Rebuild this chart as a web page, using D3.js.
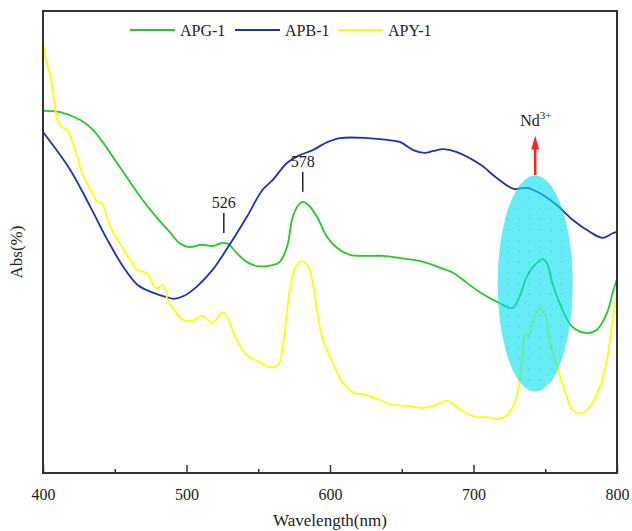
<!DOCTYPE html>
<html>
<head>
<meta charset="utf-8">
<script src="https://cdn.jsdelivr.net/npm/d3@7"></script>
<style>
  body { margin: 0; background: #fff; }
  text { font-family: "Liberation Serif", "Times New Roman", serif; fill: #222; }
</style>
</head>
<body>
<div id="root"></div>
<script>
// Series names and colours
var seriesNames = ["APG-1", "APB-1", "APY-1"];
var seriesColors = ["#22cc22", "#1f2fbf", "#ffff00"];

// APG-1 (green)
var apgWl  = [400, 412, 426, 435, 454, 468, 479, 489, 495, 502, 511, 518, 525, 529, 535, 542, 549, 560, 565, 570, 574, 578, 581, 585, 591, 598, 605, 614, 626, 637, 649, 665, 677, 686, 691, 705, 718, 727, 732, 737, 741, 748, 751, 755, 762, 769, 779, 786, 793, 797, 800];
var apgAbs = [78.4, 78.1, 76.4, 74.2, 66.0, 59.7, 55.4, 51.9, 49.8, 48.9, 49.4, 49.1, 49.8, 49.6, 47.6, 45.7, 44.8, 45.0, 45.7, 48.9, 55.4, 58.0, 58.7, 58.0, 55.4, 51.1, 48.7, 47.2, 47.0, 47.0, 46.5, 45.7, 44.4, 43.3, 42.2, 39.0, 36.8, 35.7, 38.1, 42.4, 44.4, 46.3, 45.5, 41.1, 35.3, 31.6, 30.3, 31.0, 34.6, 39.0, 42.0];

// APB-1 (blue)
var apbWl  = [400, 419, 433, 445, 456, 466, 477, 486, 491, 498, 507, 518, 530, 542, 553, 560, 570, 579, 588, 598, 607, 626, 640, 649, 658, 666, 672, 679, 688, 705, 716, 728, 737, 746, 758, 769, 781, 790, 797, 800];
var apbAbs = [73.8, 65.6, 57.6, 50.4, 44.6, 40.7, 39.0, 38.1, 37.7, 38.3, 40.3, 43.9, 49.4, 55.4, 61.3, 63.4, 67.1, 68.8, 69.9, 71.6, 72.5, 72.5, 72.1, 71.6, 69.9, 69.3, 69.7, 70.1, 69.5, 66.7, 63.9, 61.5, 61.7, 60.6, 58.0, 54.8, 52.2, 50.9, 51.9, 52.2];

// APY-1 (yellow)
var apyWl  = [400, 401, 405, 408, 410, 413, 417, 420, 424, 426, 433, 438, 441, 447, 456, 466, 472, 479, 484, 487, 493, 498, 505, 511, 518, 525, 528, 535, 542, 551, 558, 564, 567, 572, 576, 580, 585, 588, 592, 595, 602, 609, 617, 623, 635, 642, 654, 666, 677, 682, 689, 695, 702, 709, 718, 725, 730, 734, 736, 739, 741, 746, 750, 753, 759, 765, 769, 776, 781, 788, 793, 797, 800];
var apyAbs = [94.2, 90.9, 86.1, 80.1, 76.4, 74.9, 74.2, 72.1, 68.4, 66.0, 61.3, 58.7, 58.4, 53.2, 48.5, 43.9, 43.3, 40.0, 40.7, 37.4, 34.6, 33.1, 33.1, 34.0, 32.5, 34.8, 33.8, 28.8, 25.5, 24.0, 22.9, 23.4, 27.3, 39.6, 44.6, 45.9, 44.6, 41.1, 33.1, 28.8, 23.8, 19.5, 17.3, 17.1, 15.8, 14.9, 14.5, 14.1, 15.2, 15.6, 14.1, 13.0, 12.1, 12.1, 11.7, 13.0, 16.5, 24.5, 29.9, 29.9, 32.5, 35.7, 34.2, 28.8, 22.3, 16.5, 13.6, 13.0, 14.3, 18.6, 24.5, 33.1, 39.0];

var xTicks = [400, 500, 600, 700, 800];
var xMinorTicks = [450, 550, 650, 750];

// Peak annotations
var peakLabels = [{wl: 526, abs: 49.8, text: "526"}, {wl: 581, abs: 58.7, text: "578"}];

var margin = {top: 11, right: 15, bottom: 58, left: 43},
width = 632 - margin.left - margin.right,
height = 531 - margin.top - margin.bottom;

var svg = d3.select("#root")
            .append("svg")
            .attr("width", 632)
            .attr("height", 531)
            .append("g")
            .attr("transform", "translate(" + margin.left + "," + margin.top + ")");

var x = d3.scaleLinear().domain([400, 800]).range([0, width]);
var y = d3.scaleLinear().domain([0, 100]).range([height, 0]);

// Dotted fill for the highlight ellipse
var defs = svg.append("defs");
var pattern = defs.append("pattern")
                  .attr("id", "dots")
                  .attr("patternUnits", "userSpaceOnUse")
                  .attr("width", 10.7)
                  .attr("height", 10.7);
pattern.append("rect")
       .attr("width", 10.7).attr("height", 10.7)
       .attr("fill", "#00e0f0");
pattern.append("circle")
       .attr("cx", 5).attr("cy", 5).attr("r", 1.3)
       .attr("fill", "#00c0e8");

// Curves
var line = d3.line()
             .x(function (d) { return x(d[0]); })
             .y(function (d) { return y(d[1]); })
             .curve(d3.curveCatmullRom.alpha(0.5));

var seriesData = [d3.zip(apgWl, apgAbs), d3.zip(apbWl, apbAbs), d3.zip(apyWl, apyAbs)];

svg.selectAll(".curve")
   .data(seriesData)
   .enter().append("path")
   .attr("class", "curve")
   .attr("d", line)
   .attr("fill", "none")
   .attr("stroke", function (d, i) { return seriesColors[i]; })
   .attr("stroke-width", 1.8);

// Nd3+ highlight
svg.append("ellipse")
   .attr("cx", x(743))
   .attr("cy", y(41))
   .attr("rx", 37.5)
   .attr("ry", 108)
   .attr("fill", "url(#dots)")
   .attr("opacity", 0.6);

svg.append("line")
   .attr("x1", x(743)).attr("x2", x(743))
   .attr("y1", y(64.5)).attr("y2", y(70.5))
   .attr("stroke", "#ff2020")
   .attr("stroke-width", 2.5);

svg.append("path")
   .attr("d", "M" + (x(743) - 4) + "," + y(70) + "L" + x(743) + "," + y(73) + "L" + (x(743) + 4) + "," + y(70) + "Z")
   .attr("fill", "#ff2020");

var nd = svg.append("text")
            .attr("x", x(743) - 15)
            .attr("y", y(75.2))
            .attr("font-size", 16);
nd.append("tspan").text("Nd");
nd.append("tspan").attr("dy", -7).attr("font-size", 11).text("3+");

// Peak markers
svg.selectAll(".peakTick")
   .data(peakLabels)
   .enter().append("line")
   .attr("x1", function (d) { return x(d.wl); })
   .attr("x2", function (d) { return x(d.wl); })
   .attr("y1", function (d) { return y(d.abs) - 10; })
   .attr("y2", function (d) { return y(d.abs) - 30; })
   .attr("stroke", "#222")
   .attr("stroke-width", 1.5);

svg.selectAll(".peakLabel")
   .data(peakLabels)
   .enter().append("text")
   .attr("x", function (d) { return x(d.wl); })
   .attr("y", function (d) { return y(d.abs) - 35; })
   .attr("text-anchor", "middle")
   .attr("font-size", 16)
   .text(function (d) { return d.text; });

// Frame
svg.append("rect")
   .attr("width", width)
   .attr("height", height)
   .attr("fill", "none")
   .attr("stroke", "#333")
   .attr("stroke-width", 2);

// X axis, ticks inward
var xAxis = svg.append("g")
               .attr("transform", "translate(0," + height + ")")
               .call(d3.axisBottom(x).tickValues(xTicks).tickSizeInner(-8).tickSizeOuter(0).tickPadding(16).tickFormat(d3.format("d")));
xAxis.select(".domain").remove();
xAxis.selectAll("line").attr("stroke", "#333").attr("stroke-width", 1.5);
xAxis.selectAll("text").attr("font-size", 16).attr("font-family", "Liberation Serif").attr("fill", "#222");

var xMinor = svg.append("g")
                .attr("transform", "translate(0," + height + ")")
                .call(d3.axisBottom(x).tickValues(xMinorTicks).tickSizeInner(-4).tickSizeOuter(0).tickFormat(""));
xMinor.select(".domain").remove();
xMinor.selectAll("line").attr("stroke", "#333").attr("stroke-width", 1.5);

// Axis titles
svg.append("text")
   .attr("x", width / 2)
   .attr("y", height + 53)
   .attr("text-anchor", "middle")
   .attr("font-size", 17)
   .text("Wavelength(nm)");

svg.append("text")
   .attr("transform", "translate(" + (-21) + "," + (height / 2 + 10) + ") rotate(-90)")
   .attr("text-anchor", "middle")
   .attr("font-size", 17)
   .text("Abs(%)");

// Legend
var legendX = [87, 192, 295];
var legend = svg.selectAll(".legend")
                .data(seriesNames)
                .enter().append("g")
                .attr("transform", function (d, i) { return "translate(" + legendX[i] + ",19)"; });

legend.append("line")
      .attr("x1", 0).attr("x2", 45)
      .attr("stroke", function (d, i) { return seriesColors[i]; })
      .attr("stroke-width", 1.8);

legend.append("text")
      .attr("x", 50)
      .attr("y", 6)
      .attr("font-size", 16)
      .text(function (d) { return d; });
</script>
</body>
</html>
